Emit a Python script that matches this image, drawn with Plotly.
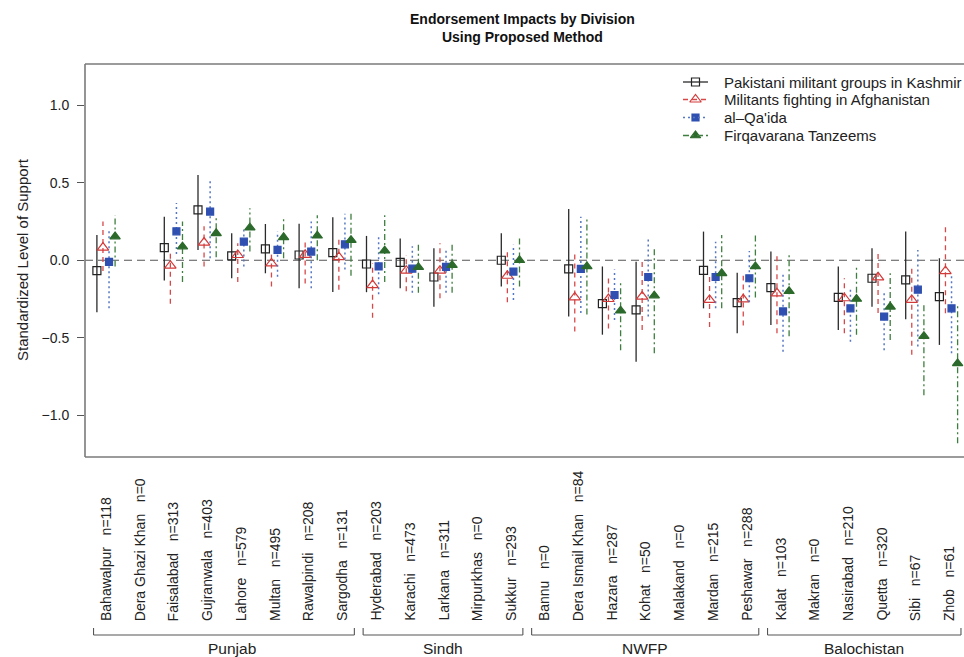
import plotly.graph_objects as go

# ---------------- data ----------------
divisions = ["Bahawalpur", "Dera Ghazi Khan", "Faisalabad", "Gujranwala", "Lahore", "Multan",
             "Rawalpindi", "Sargodha", "Hyderabad", "Karachi", "Larkana", "Mirpurkhas", "Sukkur",
             "Bannu", "Dera Ismail Khan", "Hazara", "Kohat", "Malakand", "Mardan", "Peshawar",
             "Kalat", "Makran", "Nasirabad", "Quetta", "Sibi", "Zhob"]
n_obs = [118, 0, 313, 403, 579, 495, 208, 131, 203, 473, 311, 0, 293,
         0, 84, 287, 50, 0, 215, 288, 103, 0, 210, 320, 67, 61]
provinces = ["Punjab", "Sindh", "NWFP", "Balochistan"]
province_sizes = [8, 5, 7, 6]

series_names = ["Pakistani militant groups in Kashmir", "Militants fighting in Afghanistan",
                "al\u2013Qa'ida", "Firqavarana Tanzeems"]

kashmir_est = [-0.067, None, 0.082, 0.325, 0.028, 0.073, 0.034, 0.049, -0.024, -0.013, -0.108, None, 0.0,
               None, -0.056, -0.28, -0.32, None, -0.065, -0.273, -0.176, None, -0.24, -0.116, -0.127, -0.234]
kashmir_lo = [-0.335, None, -0.13, 0.067, -0.116, -0.084, -0.18, -0.205, -0.206, -0.18, -0.30, None, -0.17,
              None, -0.363, -0.48, -0.654, None, -0.31, -0.47, -0.417, None, -0.45, -0.30, -0.38, -0.546]
kashmir_hi = [0.163, None, 0.28, 0.55, 0.174, 0.234, 0.236, 0.278, 0.157, 0.14, 0.077, None, 0.174,
              None, 0.33, -0.04, -0.01, None, 0.185, -0.08, 0.056, None, -0.04, 0.077, 0.185, 0.013]

afghan_est = [0.082, None, -0.035, 0.114, 0.034, -0.02, 0.035, 0.02, -0.16, -0.067, -0.067, None, -0.10,
              None, -0.24, -0.25, -0.234, None, -0.256, -0.252, -0.213, None, -0.245, -0.11, -0.256, -0.07]
afghan_lo = [-0.07, None, -0.28, -0.04, -0.14, -0.17, -0.15, -0.19, -0.37, -0.20, -0.245, None, -0.27,
             None, -0.46, -0.44, -0.45, None, -0.43, -0.42, -0.47, None, -0.47, -0.34, -0.61, -0.342]
afghan_hi = [0.25, None, 0.06, 0.22, 0.11, 0.056, 0.12, 0.14, -0.02, 0.034, 0.11, None, 0.067,
             None, 0.04, -0.105, 0.0, None, -0.084, -0.10, 0.045, None, -0.116, 0.045, -0.04, 0.228]

qaida_est = [-0.01, None, 0.187, 0.314, 0.12, 0.067, 0.056, 0.103, -0.04, -0.054, -0.043, None, -0.073,
             None, -0.056, -0.224, -0.108, None, -0.108, -0.116, -0.33, None, -0.31, -0.363, -0.19, -0.31]
qaida_lo = [-0.31, None, 0.04, 0.013, -0.04, -0.106, -0.18, -0.06, -0.22, -0.21, -0.21, None, -0.256,
            None, -0.34, -0.385, -0.363, None, -0.31, -0.27, -0.59, None, -0.525, -0.58, -0.557, -0.60]
qaida_hi = [0.196, None, 0.37, 0.52, 0.21, 0.185, 0.25, 0.30, 0.153, 0.09, 0.077, None, 0.10,
            None, 0.28, -0.06, 0.15, None, 0.12, 0.06, -0.084, None, -0.19, -0.21, 0.067, -0.084]

firqa_est = [0.153, None, 0.088, 0.174, 0.21, 0.148, 0.158, 0.13, 0.062, -0.045, -0.032, None, 0.0,
             None, -0.04, -0.325, -0.228, None, -0.084, -0.04, -0.20, None, -0.25, -0.30, -0.49, -0.665]
firqa_lo = [-0.04, None, -0.14, 0.02, 0.056, 0.013, 0.0, -0.10, -0.14, -0.21, -0.21, None, -0.17,
            None, -0.35, -0.58, -0.60, None, -0.31, -0.24, -0.49, None, -0.48, -0.514, -0.87, -1.18]
firqa_hi = [0.29, None, 0.25, 0.29, 0.335, 0.267, 0.29, 0.30, 0.29, 0.11, 0.12, None, 0.15,
            None, 0.28, -0.14, 0.077, None, 0.163, 0.17, 0.034, None, -0.04, -0.084, -0.277, -0.277]

y_ticks = [-1.0, -0.5, 0.0, 0.5, 1.0]

# ---------------- layout constants (window pixels) ----------------
FONT = "Liberation Sans, Arial, Helvetica, sans-serif"
W, H = 964, 657
PL, PR, PT, PB = 85, 964, 64, 457   # plot box in window pixels
ML, MT, MB = PL, PT, H - PB
PW, PH = PR - PL, PB - PT

def py(ywin):
    return (PB - ywin) / PH

def px(xwin):
    return (xwin - PL) / PW

offsets = [-0.27, -0.09, 0.09, 0.27]
styles = [
    dict(symbol="square-open", mcolor="#222222", lcolor="#2a2a2a", dash="solid", size=8, lw=1.3),
    dict(symbol="triangle-up-open", mcolor="#D23A3A", lcolor="#D84848", dash="5px,4px", size=10, lw=1.3),
    dict(symbol="square", mcolor="#2F50B0", lcolor="#5577C4", dash="2px,3px", size=7, lw=1.5),
    dict(symbol="triangle-up", mcolor="#2C6A2C", lcolor="#3E7E3E", dash="6px,3px,2px,3px", size=9, lw=1.3),
]
est_all = [kashmir_est, afghan_est, qaida_est, firqa_est]
lo_all = [kashmir_lo, afghan_lo, qaida_lo, firqa_lo]
hi_all = [kashmir_hi, afghan_hi, qaida_hi, firqa_hi]

fig = go.Figure()
positions = list(range(1, len(divisions) + 1))

for s in range(4):
    st = styles[s]
    cx, cy, mx, my = [], [], [], []
    for i, p in enumerate(positions):
        if est_all[s][i] is None:
            continue
        x = p + offsets[s]
        cx += [x, x, None]
        cy += [lo_all[s][i], hi_all[s][i], None]
        mx.append(x)
        my.append(est_all[s][i])
    fig.add_trace(go.Scatter(x=cx, y=cy, mode="lines", showlegend=False, hoverinfo="skip",
                             line=dict(color=st["lcolor"], width=st["lw"], dash=st["dash"])))
    fig.add_trace(go.Scatter(x=mx, y=my, mode="markers", showlegend=False, name=series_names[s],
                             marker=dict(symbol=st["symbol"], size=st["size"], color=st["mcolor"],
                                         line=dict(color=st["mcolor"], width=1.2))))

shapes = []
annotations = []

# legend drawn by hand (overlay axes in window pixels)
leg_rows = [82, 99.5, 117.5, 135.5]
for s in range(4):
    st = styles[s]
    yy = leg_rows[s]
    shapes.append(dict(type="line", xref="x2", yref="y2", x0=683, x1=708, y0=yy, y1=yy,
                       line=dict(color=st["lcolor"], width=st["lw"], dash=st["dash"])))
    fig.add_trace(go.Scatter(x=[695.5], y=[yy], xaxis="x2", yaxis="y2", mode="markers",
                             showlegend=False, hoverinfo="skip",
                             marker=dict(symbol=st["symbol"], size=st["size"], color=st["mcolor"],
                                         line=dict(color=st["mcolor"], width=1.2))))
    annotations.append(dict(x=722, y=yy, xref="x2", yref="y2", text=series_names[s], showarrow=False,
                            xanchor="left", yanchor="middle",
                            font=dict(family=FONT, size=15, color="#222222")))

# zero reference line
shapes.append(dict(type="line", xref="paper", x0=0, x1=1, yref="y", y0=0, y1=0,
                   line=dict(color="#555555", width=1.2, dash="8px,5px"), layer="below"))
# plot box (left, top, bottom)
box = dict(color="#7a7a7a", width=1.6)
shapes += [dict(type="line", xref="paper", yref="paper", x0=0, x1=0, y0=0, y1=1, line=box),
           dict(type="line", xref="paper", yref="paper", x0=0, x1=1, y0=1, y1=1, line=box),
           dict(type="line", xref="paper", yref="paper", x0=0, x1=1, y0=0, y1=0, line=box)]

for i, p in enumerate(positions):
    annotations.append(dict(x=p, xref="x", y=py(623), yref="paper", textangle=-90,
                            text=divisions[i] + "\u00a0\u00a0\u00a0n=" + str(n_obs[i]),
                            showarrow=False, xanchor="center", yanchor="bottom",
                            font=dict(family=FONT, size=14, color="#222222")))

start = 1
for k, prov in enumerate(provinces):
    end = start + province_sizes[k] - 1
    x0, x1 = start - 0.37, end + 0.37
    bl = dict(color="#555555", width=1.1)
    shapes.append(dict(type="line", xref="x", yref="paper", x0=x0, x1=x1, y0=py(635), y1=py(635), line=bl))
    shapes.append(dict(type="line", xref="x", yref="paper", x0=x0, x1=x0, y0=py(635), y1=py(628), line=bl))
    shapes.append(dict(type="line", xref="x", yref="paper", x0=x1, x1=x1, y0=py(635), y1=py(628), line=bl))
    cxp = (start + end) / 2 + (0.25 if k == 0 else 0)
    annotations.append(dict(x=cxp, xref="x", y=py(648), yref="paper", text=prov, showarrow=False,
                            xanchor="center", yanchor="middle",
                            font=dict(family=FONT, size=15.5, color="#222222")))
    start = end + 1

annotations.append(dict(x=px(522), xref="paper", y=py(28), yref="paper",
                        text="<b>Endorsement Impacts by Division</b><br><b>Using Proposed Method</b>",
                        showarrow=False, xanchor="center", yanchor="middle",
                        font=dict(family=FONT, size=14, color="#111111")))
annotations.append(dict(x=px(22), xref="paper", y=py(260), yref="paper",
                        text="Standardized Level of Support", textangle=-90, showarrow=False,
                        xanchor="center", yanchor="middle",
                        font=dict(family=FONT, size=15, color="#222222")))

fig.update_layout(
    width=W, height=H,
    margin=dict(l=ML, r=0, t=MT, b=MB, pad=0),
    paper_bgcolor="white", plot_bgcolor="white",
    xaxis=dict(range=[0.377, 26.46], showticklabels=False, showgrid=False, zeroline=False,
               ticks="", showline=False),
    yaxis=dict(range=[-1.269, 1.266], tickvals=y_ticks,
               ticktext=[f"{v:.1f}".replace("-", "\u2212") for v in y_ticks],
               ticks="outside", ticklen=7, tickcolor="#555555", tickwidth=1.1, ticklabelstandoff=5,
               showgrid=False, zeroline=False, showline=False,
               tickfont=dict(family=FONT, size=14, color="#222222")),
    xaxis2=dict(overlaying="x", range=[PL, PR], visible=False, anchor="y2"),
    yaxis2=dict(overlaying="y", range=[PB, PT], visible=False, anchor="x2"),
    showlegend=False,
    shapes=shapes, annotations=annotations,
)

fig.write_html("out.html",
               config={"displayModeBar": False, "staticPlot": True},
               post_script="document.body.style.margin='0';"
                           "document.documentElement.style.overflow='hidden';"
                           "document.body.style.overflow='hidden';")
